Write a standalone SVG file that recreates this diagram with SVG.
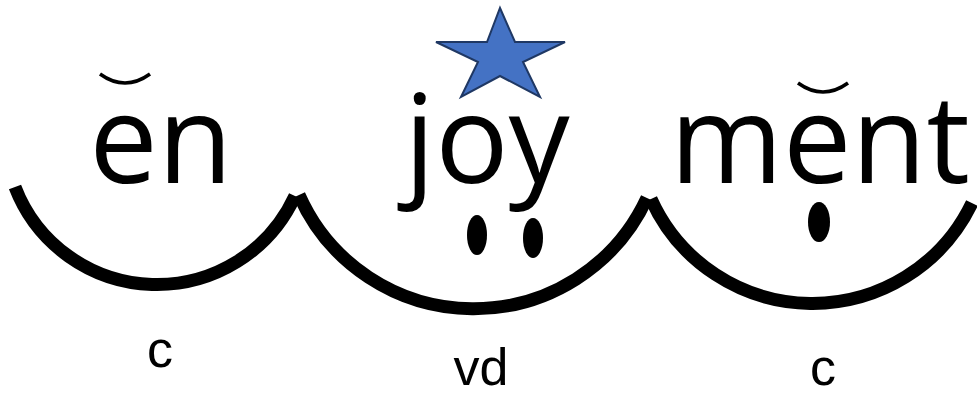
<svg xmlns="http://www.w3.org/2000/svg" width="977" height="400" viewBox="0 0 977 400">
  <style>
    .word { font-family: "Open Sans", "Noto Sans", sans-serif; font-size: 122px; fill: #000; text-anchor: middle; }
    .lbl { font-family: "Liberation Sans", Arial, sans-serif; font-size: 52px; fill: #000; text-anchor: middle; }
    .arc { fill: none; stroke: #000; stroke-width: 13; stroke-linecap: butt; }
    .breve { fill: none; stroke: #000; stroke-width: 3.5; stroke-linecap: butt; }
    .dot { fill: #000; }
  </style>
  <rect width="977" height="400" fill="#fff"/>
  <g id="syllable-en">
    <path class="arc" d="M15 187 A152 152 0 0 0 295 196"/>
    <path class="breve" d="M100 74 Q125 92 150 74"/>
    <text class="word" x="161" y="183">en</text>
    <text class="lbl" x="160" y="367">c</text>
  </g>
  <g id="syllable-joy">
    <path class="arc" d="M299 195 A191 191 0 0 0 647 198"/>
    <polygon points="500,8 515,42 565,42 523,62 540,97 500,76 461,97 478,62 436,42 487,42" fill="#4472C4" stroke="#1F3864" stroke-width="2" stroke-linejoin="miter"/>
    <text class="word" x="487" y="183">joy</text>
    <ellipse class="dot" cx="477" cy="235" rx="10" ry="20"/>
    <ellipse class="dot" cx="533" cy="238" rx="10" ry="20"/>
    <text class="lbl" x="481" y="385">vd</text>
  </g>
  <g id="syllable-ment">
    <path class="arc" d="M651 199 A177 177 0 0 0 972 203"/>
    <path class="breve" d="M798 83 Q823 101 848 83"/>
    <text class="word" x="820" y="183">ment</text>
    <ellipse class="dot" cx="819" cy="222" rx="11" ry="20"/>
    <text class="lbl" x="823" y="385">c</text>
  </g>
</svg>
